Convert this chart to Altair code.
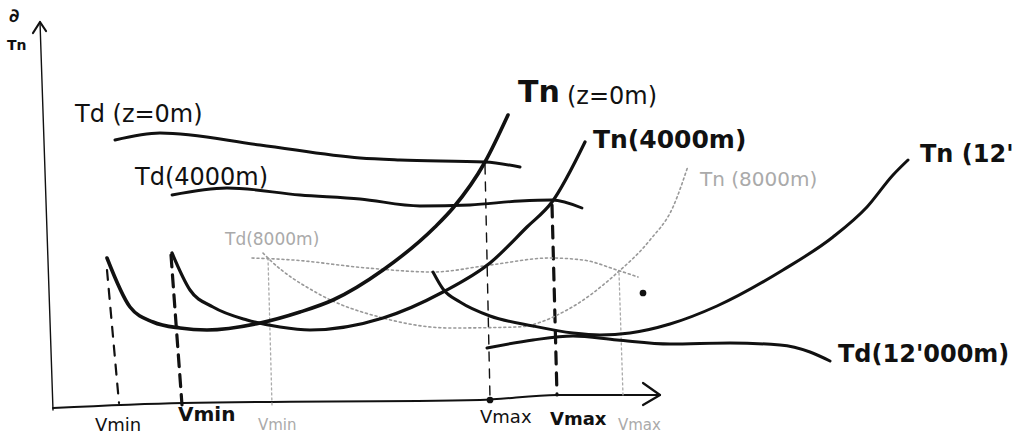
import altair as alt
import pandas as pd

# Speed V (horizontal) and thrust T (vertical), arbitrary sketch units.
# Available thrust Td and required thrust Tn at several altitudes.
td_0_v = [75, 120, 220, 320, 360, 445, 480]
td_0_t = [270, 277, 265, 252, 250, 248, 243]

td_4000_v = [132, 187, 260, 320, 380, 430, 480, 512, 542]
td_4000_t = [215, 222, 215, 211, 204, 205, 209, 210, 202]

td_8000_v = [212, 253, 327, 393, 450, 510, 543, 577, 598]
td_8000_t = [152, 150, 142, 138, 145, 152, 150, 140, 133]

td_12000_v = [447, 493, 533, 577, 630, 690, 740, 770, 790]
td_12000_t = [62, 70, 74, 70, 66, 67, 65, 58, 49]

tn_0_v = [67, 90, 113, 140, 167, 220, 260, 293, 343, 395, 413, 445, 468]
tn_0_t = [152, 103, 88, 82, 80, 87, 98, 110, 140, 183, 202, 248, 295]

tn_4000_v = [132, 150, 173, 207, 240, 270, 343, 403, 450, 487, 512, 545]
tn_4000_t = [157, 120, 103, 90, 83, 80, 92, 118, 147, 183, 208, 268]

tn_8000_v = [223, 230, 277, 343, 410, 477, 527, 577, 610, 633, 648]
tn_8000_t = [157, 150, 117, 92, 82, 83, 100, 137, 170, 203, 244]

tn_12000_v = [393, 403, 420, 450, 493, 533, 560, 590, 630, 677, 743, 793, 827, 853, 868]
tn_12000_t = [138, 121, 108, 94, 84, 77, 75, 77, 86, 104, 140, 173, 203, 235, 250]

# Guide lines from each Td/Tn intersection down to the speed axis
vmin_1 = ([67, 79], [140, 7])
vmin_2 = ([131, 142], [155, 5])
vmin_3 = ([228, 232], [152, 5])
vmax_1 = ([445, 450], [245, 12])
vmax_2 = ([512, 517], [205, 15])
vmax_3 = ([579, 583], [137, 15])

# Hand-drawn axes with arrow heads
axis_y = ([0, 13], [388, 0])
axis_x = ([13, 143, 440, 517, 620], [2, 7, 10, 15, 15])
arrow_x = ([603, 620, 603], [27, 15, 5])
arrow_y = ([-7, 0, 6], [377, 388, 379])

# Text labels: (text, V, T, size, weight, colour)
labels = [
    ("∂", -31, 394, 19, "bold", "#111"),
    ("Tn", -33, 364, 14, "bold", "#111"),
    ("Td (z=0m)", 35, 295, 24, "normal", "#111"),
    ("Td(4000m)", 95, 232, 24, "normal", "#111"),
    ("Td(8000m)", 185, 170, 17, "normal", "#aaa"),
    ("Tn", 478, 317, 30, "bold", "#111"),
    ("(z=0m)", 527, 313, 24, "normal", "#111"),
    ("Tn(4000m)", 553, 270, 25, "bold", "#111"),
    ("Tn (8000m)", 660, 230, 20, "normal", "#aaa"),
    ("Tn (12'000m)", 880, 255, 24, "bold", "#111"),
    ("Td(12'000m)", 798, 55, 24, "bold", "#111"),
    ("Vmin", 55, -16, 18, "normal", "#111"),
    ("Vmin", 138, -5, 20, "bold", "#111"),
    ("Vmin", 218, -15, 15, "normal", "#aaa"),
    ("Vmax", 440, -8, 18, "normal", "#111"),
    ("Vmax", 510, -10, 18, "bold", "#111"),
    ("Vmax", 578, -15, 15, "normal", "#aaa"),
]

dots_v = [603, 450]
dots_t = [117, 10]

X = alt.Scale(domain=[-40, 972], nice=False, zero=False)
Y = alt.Scale(domain=[-34, 410], nice=False, zero=False)


def curve(v, t, color="#111", width=3.0, dash=None, interp="monotone"):
    df = pd.DataFrame({"V": v, "T": t, "i": range(len(v))})
    kw = dict(color=color, strokeWidth=width, interpolate=interp,
              strokeCap="round", strokeJoin="round")
    if dash:
        kw["strokeDash"] = dash
    return alt.Chart(df).mark_line(**kw).encode(
        x=alt.X("V:Q", scale=X, axis=None),
        y=alt.Y("T:Q", scale=Y, axis=None),
        order="i:Q",
    )


layers = [
    # axes
    curve(*axis_y, width=1.4, interp="linear"),
    curve(*axis_x, width=2.0),
    curve(*arrow_x, width=2.2, interp="linear"),
    curve(*arrow_y, width=2.2, interp="linear"),
    # Vmin / Vmax guides
    curve(*vmin_1, width=2.2, dash=[10, 9], interp="linear"),
    curve(*vmin_2, width=3.2, dash=[12, 8], interp="linear"),
    curve(*vmin_3, color="#aaa", width=1.3, dash=[2, 3], interp="linear"),
    curve(*vmax_1, width=1.4, dash=[9, 8], interp="linear"),
    curve(*vmax_2, width=3.2, dash=[12, 9], interp="linear"),
    curve(*vmax_3, color="#aaa", width=1.3, dash=[2, 3], interp="linear"),
    # 8000 m curves, pale dotted
    curve(td_8000_v, td_8000_t, color="#999", width=1.6, dash=[2, 3]),
    curve(tn_8000_v, tn_8000_t, color="#999", width=1.6, dash=[2, 3]),
    # available thrust
    curve(td_0_v, td_0_t, width=3.0),
    curve(td_4000_v, td_4000_t, width=2.8),
    curve(td_12000_v, td_12000_t, width=3.0),
    # required thrust
    curve(tn_0_v, tn_0_t, width=3.6),
    curve(tn_4000_v, tn_4000_t, width=3.2),
    curve(tn_12000_v, tn_12000_t, width=3.0),
]

dots = alt.Chart(pd.DataFrame({"V": dots_v, "T": dots_t})).mark_point(
    filled=True, color="#111", size=45, opacity=1
).encode(x=alt.X("V:Q", scale=X, axis=None), y=alt.Y("T:Q", scale=Y, axis=None))
layers.append(dots)

for text, v, t, size, weight, color in labels:
    df = pd.DataFrame({"V": [v], "T": [t], "label": [text]})
    layers.append(
        alt.Chart(df).mark_text(
            align="left", baseline="middle", fontSize=size, fontWeight=weight,
            color=color, font="DejaVu Sans",
        ).encode(
            x=alt.X("V:Q", scale=X, axis=None),
            y=alt.Y("T:Q", scale=Y, axis=None),
            text="label:N",
        )
    )

chart = (
    alt.layer(*layers)
    .properties(width=1012, height=444, autosize=alt.AutoSizeParams(type="none"),
                padding=0, background="white")
    .configure_view(stroke=None)
)

chart.save("out.html", embed_options={"renderer": "svg", "actions": False})
